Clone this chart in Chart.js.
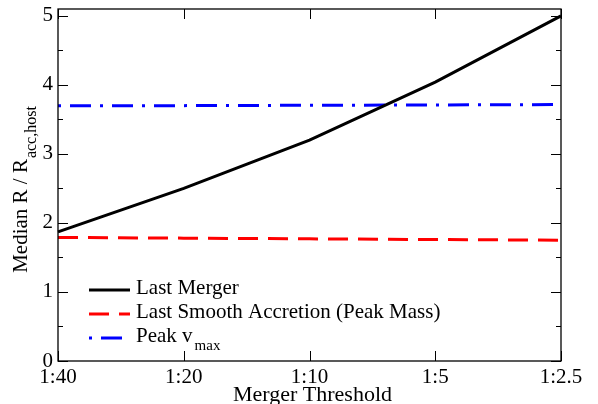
<!DOCTYPE html>
<html>
<head>
<meta charset="utf-8">
<script src="https://cdn.jsdelivr.net/npm/chart.js@4/dist/chart.umd.min.js"></script>
<style>
  html, body { margin: 0; padding: 0; background: #fff; }
  #wrap { width: 598px; height: 404px; }
</style>
</head>
<body>
<div id="wrap"><canvas id="chart" width="598" height="404"></canvas></div>
<script>
// merger thresholds along x, median radius ratio along y
const thresholds = ["1:40", "1:20", "1:10", "1:5", "1:2.5"];
const lastMerger = [1.87, 2.5, 3.2, 4.04, 5.0];
const lastSmooth = [1.79, 1.78, 1.77, 1.76, 1.75];
const peakVmax = [3.70, 3.70, 3.705, 3.71, 3.715];
const yTicks = [0, 1, 2, 3, 4, 5];

const SERIF = "'Liberation Serif', 'Times New Roman', serif";

// legend rows: [line color, dash, dash offset, text, subscript]
const legendRows = [
  ["#000000", [], 0, "Last Merger", ""],
  ["#ff0000", [20, 10], 0, "Last Smooth Accretion (Peak Mass)", ""],
  ["#0000ff", [3, 9, 21, 9], 0, "Peak v", "max"]
];

const framePlugin = {
  id: "frame",
  afterDraw(chart) {
    const ctx = chart.ctx;
    const a = chart.chartArea;
    const xs = chart.scales.x, ys = chart.scales.y;
    ctx.save();
    ctx.strokeStyle = "#000";
    ctx.lineWidth = 1.3;
    ctx.strokeRect(a.left, a.top, a.right - a.left, a.bottom - a.top);

    // inward ticks on all four sides
    ctx.lineWidth = 1;
    ctx.beginPath();
    thresholds.forEach((t, i) => {
      const x = Math.round(xs.getPixelForTick(i)) + 0.5;
      ctx.moveTo(x, a.bottom); ctx.lineTo(x, a.bottom - 10);
      ctx.moveTo(x, a.top); ctx.lineTo(x, a.top + 10);
    });
    for (let v = 0; v <= 5; v += 0.5) {
      const y = Math.round(ys.getPixelForValue(v)) + 0.5;
      const len = Number.isInteger(v) ? 10 : 5;
      ctx.moveTo(a.left, y); ctx.lineTo(a.left + len, y);
      ctx.moveTo(a.right, y); ctx.lineTo(a.right - len, y);
    }
    ctx.stroke();

    // axis titles
    ctx.fillStyle = "#000";
    ctx.font = "22px " + SERIF;
    ctx.textAlign = "center";
    ctx.textBaseline = "alphabetic";
    ctx.fillText("Merger Threshold", (a.left + a.right) / 2 + 3, 401);

    const main = "Median R / R", sub = "acc,host";
    ctx.font = "21px " + SERIF;
    const wMain = ctx.measureText(main).width;
    ctx.font = "16px " + SERIF;
    const wSub = ctx.measureText(sub).width;
    ctx.translate(27, 190);
    ctx.rotate(-Math.PI / 2);
    ctx.textAlign = "left";
    const x0 = -(wMain + wSub) / 2;
    ctx.font = "21px " + SERIF;
    ctx.fillText(main, x0, 0);
    ctx.font = "16px " + SERIF;
    ctx.fillText(sub, x0 + wMain + 1, 9);
    ctx.restore();

    // legend
    ctx.save();
    ctx.textAlign = "left";
    ctx.textBaseline = "alphabetic";
    legendRows.forEach((row, i) => {
      const y = 290 + i * 24;
      ctx.strokeStyle = row[0];
      ctx.lineWidth = 3;
      ctx.setLineDash(row[1]);
      ctx.lineDashOffset = row[2];
      ctx.beginPath();
      ctx.moveTo(89, y); ctx.lineTo(130, y);
      ctx.stroke();
      ctx.setLineDash([]);
      ctx.fillStyle = "#000";
      ctx.font = "21px " + SERIF;
      ctx.fillText(row[3], 136, y + 4);
      if (row[4]) {
        const w = ctx.measureText(row[3]).width;
        ctx.font = "15px " + SERIF;
        ctx.fillText(row[4], 136 + w + 2, y + 12);
      }
    });
    ctx.restore();
  }
};

new Chart(document.getElementById("chart"), {
  type: "line",
  data: {
    labels: thresholds,
    datasets: [
      { data: lastMerger, borderColor: "#000000", borderWidth: 3, pointRadius: 0, tension: 0 },
      { data: lastSmooth, borderColor: "#ff0000", borderWidth: 3, borderDash: [20, 10], pointRadius: 0, tension: 0 },
      { data: peakVmax, borderColor: "#0000ff", borderWidth: 3, borderDash: [3, 9, 21, 9], pointRadius: 0, tension: 0 }
    ]
  },
  options: {
    responsive: false,
    animation: false,
    devicePixelRatio: 1,
    layout: { padding: { left: 0, right: 37, top: 9, bottom: 0 } },
    plugins: { legend: { display: false }, tooltip: { enabled: false } },
    scales: {
      x: {
        type: "category",
        offset: false,
        grid: { display: false, drawTicks: false },
        border: { display: false },
        ticks: { color: "#000", font: { family: SERIF, size: 21 }, padding: 4, maxRotation: 0, autoSkip: false },
        afterFit(scale) { scale.height = 43; scale.paddingLeft = 0; scale.paddingRight = 0; }
      },
      y: {
        min: 0,
        max: 5.1,
        grid: { display: false, drawTicks: false },
        border: { display: false },
        afterBuildTicks(scale) { scale.ticks = yTicks.map(v => ({ value: v })); },
        ticks: { color: "#000", font: { family: SERIF, size: 21 }, padding: 5 },
        afterFit(scale) { scale.width = 58; scale.paddingTop = 0; scale.paddingBottom = 0; }
      }
    }
  },
  plugins: [framePlugin]
});
</script>
</body>
</html>
